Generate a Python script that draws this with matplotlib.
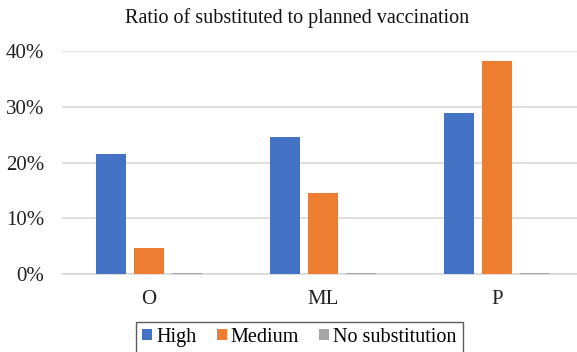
import matplotlib
matplotlib.use("Agg")
import matplotlib.pyplot as plt
from matplotlib.font_manager import FontProperties
import numpy as np

categories = ["O", "ML", "P"]
series_names = ["High", "Medium", "No substitution"]
high = [0.215, 0.245, 0.288]
medium = [0.047, 0.146, 0.381]
no_sub = [0.0015, 0.0015, 0.0015]
y_ticks = [0.0, 0.1, 0.2, 0.3, 0.4]
y_tick_labels = ["0%", "10%", "20%", "30%", "40%"]
title = "Ratio of substituted to planned vaccination"

colors = ["#4472C4", "#ED7D31", "#A5A5A5"]

plt.rcParams['font.family'] = ['Liberation Serif', 'DejaVu Serif']
plt.rcParams['font.serif'] = ['Liberation Serif', 'DejaVu Serif']

fig = plt.figure(figsize=(5.77, 3.52), dpi=100)
W, H = 577, 352
left, right = 62 / W, 584 / W
bottom = (H - 274.3) / H
top = (H - 50.7) / H
ax = fig.add_axes([left, bottom, right - left, top - bottom])

x = np.arange(len(categories))
bw = 0.172
off = 0.221
for i, (vals, name) in enumerate(zip([high, medium, no_sub], series_names)):
    ax.bar(x + (i - 1) * off, vals, width=bw, color=colors[i], label=name,
           zorder=3, edgecolor="none")

ax.set_xlim(-0.5, 2.5)
ax.set_ylim(0, 0.4)
ax.set_yticks(y_ticks)
ax.set_yticklabels(y_tick_labels, fontsize=15, color="#222222", family="Liberation Serif")
ax.set_xticks(x)
ax.set_xticklabels(categories, fontsize=15, color="#222222", family="Liberation Serif")
ax.tick_params(axis="both", length=0)
ax.tick_params(axis="y", pad=13)
ax.tick_params(axis="x", pad=11)
ax.grid(axis="y", color="#d9d9d9", linewidth=1.2, zorder=0)
for s in ["top", "right", "left"]:
    ax.spines[s].set_visible(False)
ax.spines["bottom"].set_color("#d9d9d9")
ax.spines["bottom"].set_linewidth(1.2)

fig.text(297 / W, 1 - 18 / H, title, ha="center", va="center", fontsize=14.5,
         color="#111111", family="Liberation Serif")

prop = FontProperties(family="Liberation Serif", size=14.5)
leg = fig.legend(loc="upper left", bbox_to_anchor=(136 / W, 1 - 321.5 / H),
                 ncol=3, prop=prop, frameon=True, fancybox=False,
                 edgecolor="#333333", handlelength=0.5, handleheight=0.5,
                 handletextpad=0.2, columnspacing=1.0, borderpad=0.3,
                 borderaxespad=0)
leg.get_frame().set_linewidth(1.0)

fig.savefig("out.png", dpi=100)
